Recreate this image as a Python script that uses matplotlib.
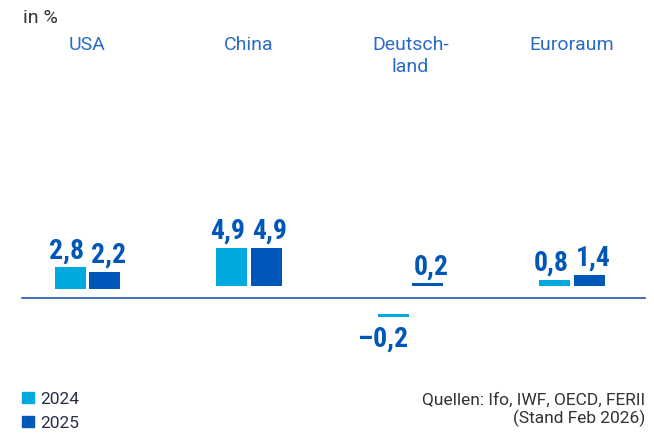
import numpy as np
import matplotlib
matplotlib.use("Agg")
import matplotlib.pyplot as plt
from matplotlib.patches import Rectangle

# data
laender = ["USA", "China", "Deutsch-\nland", "Euroraum"]
jahre = ["2024", "2025"]
wert_2024 = [2.8, 4.9, -0.2, 0.8]
wert_2025 = [2.2, 4.9, 0.2, 1.4]
quelle = "Quellen: Ifo, IWF, OECD, FERII\n(Stand Feb 2026)"

hell = "#00a9e0"
dunkel = "#0057b7"
grau = "#333333"

fig = plt.figure(figsize=(6.54, 4.41), dpi=100)
ax = fig.add_axes([0, 0, 1, 1])
ax.set_xlim(-0.5418, 3.5077)
ax.set_ylim(-18.37, 38.17)
ax.axis("off")

narrow = ["Liberation Sans Narrow", "Roboto Condensed", "Roboto", "DejaVu Sans"]

# bars float a bit above / below the zero line in the original
lift = [1.1, 1.5, 1.5, 1.5]
drop = 2.1
w = 0.192
off = 0.108
x = np.arange(len(laender))

for serie, farbe, d, dx in [(wert_2024, hell, -off, -2.5), (wert_2025, dunkel, off, 2.5)]:
    for i, v in enumerate(serie):
        h = max(abs(v), 0.35)
        if v >= 0:
            unten = lift[i]
            ax.bar(x[i] + d, h, width=w, bottom=unten, color=farbe)
            ax.annotate(f"{v:.1f}".replace(".", ","), (x[i] + d, unten + h),
                        xytext=(dx, 6.5), textcoords="offset points",
                        ha="center", va="baseline", fontsize=20,
                        fontweight="bold", color=dunkel, family=narrow)
        else:
            oben = -drop
            ax.bar(x[i] + d, -h, width=w, bottom=oben, color=farbe)
            ax.annotate(f"{v:.1f}".replace(".", ",").replace("-", "\u2013"),
                        (x[i] + d + w / 2, oben - h),
                        xytext=(0, -6), textcoords="offset points",
                        ha="right", va="top", fontsize=20,
                        fontweight="bold", color=dunkel, family=narrow)

ax.axhline(0, xmin=22 / 654, xmax=645 / 654, color="#1f58ab", lw=1.2)

tr = ax.get_xaxis_transform()
for i, name in enumerate(laender):
    ax.text(x[i], 1 - 36 / 441, name, transform=tr, ha="center", va="top",
            fontsize=14, color="#2a6cc6", family="Roboto",
            linespacing=1.3)

fig.text(23 / 654, 1 - 9 / 441, "in %", ha="left", va="top", fontsize=14,
         color=grau, family="Roboto")

# legend
for k, (j, farbe) in enumerate(zip(jahre, [hell, dunkel])):
    yp = 392 + 24 * k
    fig.patches.append(Rectangle((22 / 654, 1 - (yp + 11) / 441), 12 / 654,
                                 11 / 441, transform=fig.transFigure,
                                 color=farbe))
    fig.text(40 / 654, 1 - (yp + 12) / 441, j, ha="left", va="baseline",
             fontsize=12.5, color="#2b2f45", family="Roboto")

fig.text(645 / 654, 1 - 393 / 441, quelle, ha="right", va="top",
         fontsize=12.5, color=grau, family="Roboto", linespacing=1.15)

fig.savefig("out.png", dpi=100)
